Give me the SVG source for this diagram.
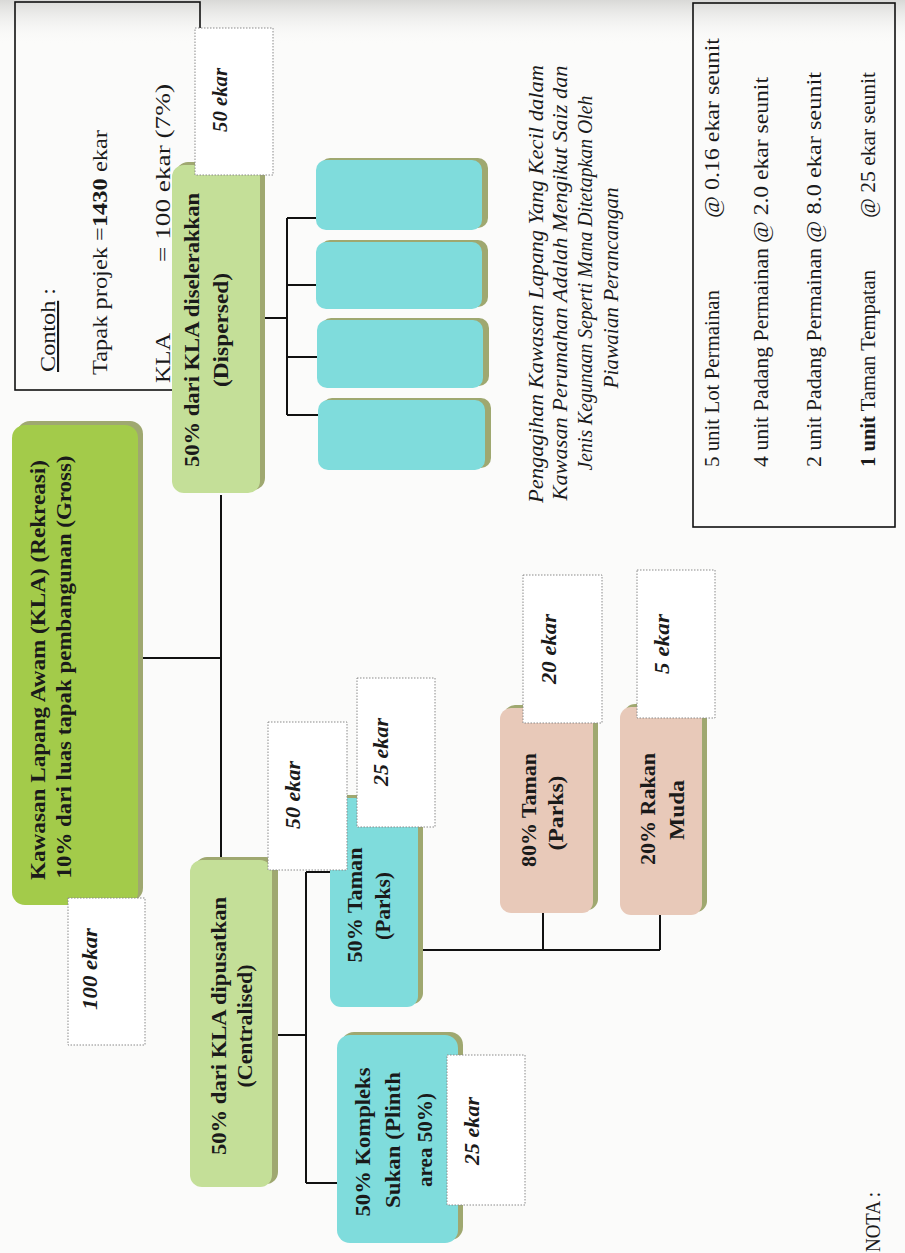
<svg xmlns="http://www.w3.org/2000/svg" width="905" height="1253" viewBox="0 0 905 1253">
<defs>
<linearGradient id="topfade" x1="0" y1="0" x2="0" y2="1">
<stop offset="0" stop-color="#d9d9d7"/><stop offset="1" stop-color="#fbfbfa" stop-opacity="0"/>
</linearGradient>
<style>
.nb{font-family:"Liberation Serif","Times New Roman",serif;font-weight:bold;font-size:22px;fill:#1a1a1a;text-anchor:middle}
.lb{font-family:"Liberation Serif","Times New Roman",serif;font-weight:bold;font-style:italic;font-size:20px;fill:#1a1a1a;text-anchor:middle}
.rg{font-family:"Liberation Serif","Times New Roman",serif;font-size:21px;fill:#1a1a1a}
.it{font-family:"Liberation Serif","Times New Roman",serif;font-style:italic;font-size:20px;fill:#1a1a1a;text-anchor:middle}
.sh{fill:#9fa870}
.g1{fill:#a3cb4a}
.g2{fill:#c4df98}
.cy{fill:#7fdcdc}
.pk{fill:#e8c9b9}
.lab{fill:#ffffff;stroke:#8a8a8a;stroke-width:1;stroke-dasharray:1.5 1.5}
.cn{fill:none;stroke:#111;stroke-width:2}
.fr{fill:none;stroke:#111;stroke-width:1.6}
</style>
</defs>
<rect x="0" y="0" width="905" height="1253" fill="#fbfbfa"/>
<rect x="0" y="0" width="905" height="45" fill="url(#topfade)"/>

<g id="contoh">
<rect class="fr" x="15" y="2" width="185" height="388"/>
<text class="rg" transform="translate(55,372) rotate(-90)" textLength="84" lengthAdjust="spacingAndGlyphs"><tspan text-decoration="underline">Contoh</tspan> :</text>
<text class="rg" transform="translate(107,375) rotate(-90)" textLength="245" lengthAdjust="spacingAndGlyphs">Tapak projek =<tspan font-weight="bold">1430</tspan> ekar</text>
<text class="rg" transform="translate(170,383) rotate(-90)" textLength="50" lengthAdjust="spacingAndGlyphs">KLA</text>
<text class="rg" transform="translate(170,262) rotate(-90)" textLength="178" lengthAdjust="spacingAndGlyphs">= 100 ekar (7%)</text>
</g>

<g id="connectors">
<path class="cn" d="M138 658 H221"/>
<path class="cn" d="M221 495 V862"/>
<path class="cn" d="M260 318 H287 M287 218 V415 M287 218 H318 M287 285 H318 M287 357 H318 M287 415 H318"/>
<path class="cn" d="M272 1035 H306 M306 872 V1183 M306 872 H332 M306 1183 H339"/>
<path class="cn" d="M418 950 H660 M543 950 V912 M660 950 V914"/>
</g>

<g id="node-main">
<rect class="sh" x="17" y="421" width="126" height="480" rx="13"/>
<rect class="g1" x="12" y="425" width="126" height="480" rx="13"/>
<text class="nb" transform="translate(45,670) rotate(-90)" textLength="420" lengthAdjust="spacingAndGlyphs">Kawasan Lapang Awam (KLA) (Rekreasi)</text>
<text class="nb" transform="translate(71,667) rotate(-90)" textLength="423" lengthAdjust="spacingAndGlyphs">10% dari luas tapak pembangunan (Gross)</text>
</g>

<g id="node-dispersed">
<rect class="sh" x="176" y="162" width="89" height="328" rx="12"/>
<rect class="g2" x="172" y="165" width="88" height="328" rx="12"/>
<text class="nb" transform="translate(199,330) rotate(-90)" textLength="274" lengthAdjust="spacingAndGlyphs">50% dari KLA diselerakkan</text>
<text class="nb" transform="translate(228,330) rotate(-90)" textLength="114" lengthAdjust="spacingAndGlyphs">(Dispersed)</text>
</g>

<g id="node-centralised">
<rect class="sh" x="195" y="857" width="83" height="327" rx="12"/>
<rect class="g2" x="190" y="860" width="82" height="327" rx="12"/>
<text class="nb" transform="translate(226,1026) rotate(-90)" textLength="258" lengthAdjust="spacingAndGlyphs">50% dari KLA dipusatkan</text>
<text class="nb" transform="translate(252,1026) rotate(-90)" textLength="123" lengthAdjust="spacingAndGlyphs">(Centralised)</text>
</g>

<g id="node-d1">
<rect class="sh" x="320" y="158" width="168" height="70" rx="10"/>
<rect class="cy" x="316" y="160" width="166" height="70" rx="10"/>
</g>
<g id="node-d2">
<rect class="sh" x="320" y="240" width="168" height="67" rx="10"/>
<rect class="cy" x="316" y="242" width="166" height="67" rx="10"/>
</g>
<g id="node-d3">
<rect class="sh" x="321" y="318" width="168" height="68" rx="10"/>
<rect class="cy" x="317" y="320" width="166" height="68" rx="10"/>
</g>
<g id="node-d4">
<rect class="sh" x="322" y="398" width="169" height="70" rx="10"/>
<rect class="cy" x="318" y="400" width="167" height="70" rx="10"/>
</g>

<g id="node-taman">
<rect class="sh" x="334" y="795" width="89" height="209" rx="11"/>
<rect class="cy" x="330" y="798" width="88" height="209" rx="11"/>
<text class="nb" transform="translate(362,905) rotate(-90)" textLength="115" lengthAdjust="spacingAndGlyphs">50% Taman</text>
<text class="nb" transform="translate(390,906) rotate(-90)" textLength="68" lengthAdjust="spacingAndGlyphs">(Parks)</text>
</g>

<g id="node-kompleks">
<rect class="sh" x="341" y="1032" width="122" height="208" rx="13"/>
<rect class="cy" x="337" y="1035" width="121" height="208" rx="13"/>
<text class="nb" transform="translate(370,1142) rotate(-90)" textLength="149" lengthAdjust="spacingAndGlyphs">50% Kompleks</text>
<text class="nb" transform="translate(400,1140) rotate(-90)" textLength="136" lengthAdjust="spacingAndGlyphs">Sukan (Plinth</text>
<text class="nb" transform="translate(432,1140) rotate(-90)" textLength="94" lengthAdjust="spacingAndGlyphs">area 50%)</text>
</g>

<g id="node-80">
<rect class="sh" x="504" y="705" width="94" height="205" rx="11"/>
<rect class="pk" x="500" y="708" width="93" height="205" rx="11"/>
<text class="nb" transform="translate(536,810) rotate(-90)" textLength="114" lengthAdjust="spacingAndGlyphs">80% Taman</text>
<text class="nb" transform="translate(563,813) rotate(-90)" textLength="75" lengthAdjust="spacingAndGlyphs">(Parks)</text>
</g>

<g id="node-20">
<rect class="sh" x="624" y="704" width="83" height="208" rx="11"/>
<rect class="pk" x="620" y="707" width="82" height="208" rx="11"/>
<text class="nb" transform="translate(655,809) rotate(-90)" textLength="112" lengthAdjust="spacingAndGlyphs">20% Rakan</text>
<text class="nb" transform="translate(684,810) rotate(-90)" textLength="60" lengthAdjust="spacingAndGlyphs">Muda</text>
</g>

<g id="label-100">
<rect class="lab" x="68" y="898" width="77" height="147"/>
<text class="lb" transform="translate(97,969) rotate(-90)" textLength="82" lengthAdjust="spacingAndGlyphs">100 ekar</text>
</g>
<g id="label-50d">
<rect class="lab" x="195" y="28" width="78" height="147"/>
<text class="lb" transform="translate(227,100) rotate(-90)" textLength="64" lengthAdjust="spacingAndGlyphs">50 ekar</text>
</g>
<g id="label-50c">
<rect class="lab" x="268" y="722" width="79" height="148"/>
<text class="lb" transform="translate(300,795) rotate(-90)" textLength="68" lengthAdjust="spacingAndGlyphs">50 ekar</text>
</g>
<g id="label-25t">
<rect class="lab" x="357" y="678" width="78" height="149"/>
<text class="lb" transform="translate(388,752) rotate(-90)" textLength="68" lengthAdjust="spacingAndGlyphs">25 ekar</text>
</g>
<g id="label-20">
<rect class="lab" x="523" y="575" width="79" height="148"/>
<text class="lb" transform="translate(556,649) rotate(-90)" textLength="70" lengthAdjust="spacingAndGlyphs">20 ekar</text>
</g>
<g id="label-5">
<rect class="lab" x="637" y="570" width="78" height="148"/>
<text class="lb" transform="translate(669,644) rotate(-90)" textLength="60" lengthAdjust="spacingAndGlyphs">5 ekar</text>
</g>
<g id="label-25k">
<rect class="lab" x="447" y="1055" width="78" height="150"/>
<text class="lb" transform="translate(479,1131) rotate(-90)" textLength="68" lengthAdjust="spacingAndGlyphs">25 ekar</text>
</g>

<g id="note">
<text class="it" transform="translate(543,284) rotate(-90)" textLength="438" lengthAdjust="spacingAndGlyphs">Pengagihan  Kawasan Lapang Yang Kecil dalam</text>
<text class="it" transform="translate(567,283) rotate(-90)" textLength="435" lengthAdjust="spacingAndGlyphs">Kawasan Perumahan Adalah Mengikut Saiz dan</text>
<text class="it" transform="translate(592,283) rotate(-90)" textLength="375" lengthAdjust="spacingAndGlyphs">Jenis Kegunaan Seperti Mana Ditetapkan Oleh</text>
<text class="it" transform="translate(618,288) rotate(-90)" textLength="201" lengthAdjust="spacingAndGlyphs">Piawaian Perancangan</text>
</g>

<g id="list">
<rect class="fr" x="693" y="3" width="202" height="524"/>
<text class="rg" transform="translate(719,467) rotate(-90)" textLength="177" lengthAdjust="spacingAndGlyphs">5 unit Lot Permainan</text>
<text class="rg" transform="translate(719,218) rotate(-90)" textLength="180" lengthAdjust="spacingAndGlyphs">@ 0.16 ekar seunit</text>
<text class="rg" transform="translate(768,467) rotate(-90)" textLength="219" lengthAdjust="spacingAndGlyphs">4 unit Padang Permainan</text>
<text class="rg" transform="translate(768,243) rotate(-90)" textLength="166" lengthAdjust="spacingAndGlyphs">@ 2.0 ekar seunit</text>
<text class="rg" transform="translate(821,467) rotate(-90)" textLength="219" lengthAdjust="spacingAndGlyphs">2 unit Padang Permainan</text>
<text class="rg" transform="translate(821,243) rotate(-90)" textLength="171" lengthAdjust="spacingAndGlyphs">@ 8.0 ekar seunit</text>
<text class="rg" transform="translate(875,467) rotate(-90)" textLength="197" lengthAdjust="spacingAndGlyphs"><tspan font-weight="bold">1 unit</tspan> Taman Tempatan</text>
<text class="rg" transform="translate(875,218) rotate(-90)" textLength="146" lengthAdjust="spacingAndGlyphs">@ 25 ekar seunit</text>
</g>

<g id="nota">
<text class="rg" transform="translate(880,1222) rotate(-90)" text-anchor="middle" textLength="60" lengthAdjust="spacingAndGlyphs">NOTA :</text>
</g>
</svg>
